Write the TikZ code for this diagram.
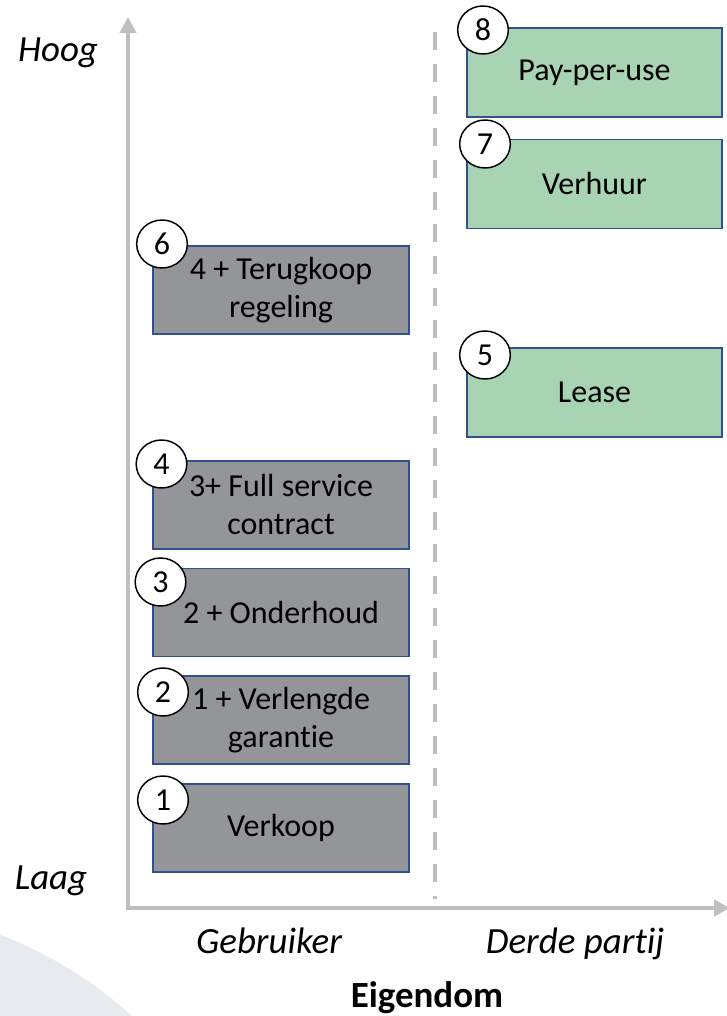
\documentclass[tikz,border=0pt]{standalone}
\usepackage{fontspec}
\setmainfont{Carlito}[Ligatures=NoCommon]
\usepackage{tikz}
\usetikzlibrary{arrows.meta,shapes.geometric}

\definecolor{axisgray}{RGB}{191,191,191}
\definecolor{boxgray}{RGB}{147,149,152}
\definecolor{boxgreen}{RGB}{168,212,179}
\definecolor{boxline}{RGB}{47,82,143}
\definecolor{bgblue}{RGB}{231,234,239}

\begin{document}
\begin{tikzpicture}[x=0.75pt,y=0.75pt,yscale=-1,xscale=1,
  userbox/.style={draw=boxline,line width=1.1pt,fill=boxgray,minimum width=192pt,minimum height=66pt,inner sep=0pt,align=center,font=\fontsize{24}{28.5}\selectfont},
  thirdbox/.style={userbox,fill=boxgreen,minimum width=191pt,minimum height=67pt},
  numdot/.style={ellipse,draw=black,line width=1.1pt,fill=white,minimum width=38pt,minimum height=36pt,inner sep=0pt,font=\fontsize{24}{24}\selectfont},
  axislabel/.style={anchor=base,inner sep=0pt,font=\fontsize{27.7}{28}\selectfont\itshape}
]
\useasboundingbox (0,0) rectangle (726,1016);

%Shape: Circle [background]
\fill [bgblue] (-151,1329) circle [radius=316.5pt];

%Straight Lines [axes]
\coordinate (origin) at (128,908);
\coordinate (ytip) at (128,17);
\coordinate (xtip) at (730,908);
\draw [axisgray,line width=3.5pt,{Triangle[width=12pt,length=12pt]}-{Triangle[width=12pt,length=12pt]}] (ytip) -- (origin) -- (xtip);

%Straight Lines [dashed divider]
\coordinate (dtop) at (435,32);
\coordinate (dbot) at (435,899);
\draw [axisgray,line width=3.5pt,dash pattern=on 13.5pt off 10.5pt] (dtop) -- (dbot);

%Shape: Rectangle [Gebruiker]
\node [userbox] (verkoop) at (281,828) {Verkoop};
\node [userbox] (garantie) at (281,720) {1 + Verlengde\\garantie};
\node [userbox] (onderhoud) at (281,612.5) {2 + Onderhoud};
\node [userbox] (service) at (281,505) {3+ Full service\\contract};
\node [userbox] (terugkoop) at (281,290) {4 + Terugkoop\\regeling};

%Shape: Rectangle [Derde partij]
\node [thirdbox] (lease) at (594.5,392.5) {Lease};
\node [thirdbox] (verhuur) at (594.5,184) {Verhuur};
\node [thirdbox] (payperuse) at (594.5,72.5) {Pay-per-use};

%Shape: Ellipse [numbers]
\node [numdot] (n1) at (163,800) {1};
\node [numdot] (n2) at (163,692) {2};
\node [numdot] (n3) at (160.5,582) {3};
\node [numdot] (n4) at (161.5,464) {4};
\node [numdot] (n5) at (485,355) {5};
\node [numdot] (n6) at (162,244) {6};
\node [numdot] (n7) at (485,144) {7};
\node [numdot] (n8) at (483,30) {8};

% Text Node
\node [axislabel] (hoog) at (58,62) {Hoog};
% Text Node
\node [axislabel] (laag) at (51,889) {Laag};
% Text Node
\node [axislabel] (gebruiker) at (269,953) {Gebruiker};
% Text Node
\node [axislabel] (derde) at (575,953) {Derde partij};
% Text Node
\node [anchor=base,inner sep=0pt,font=\fontsize{27.7}{28}\selectfont\bfseries] (eigendom) at (427,1007) {Eigendom};

\end{tikzpicture}
\end{document}
